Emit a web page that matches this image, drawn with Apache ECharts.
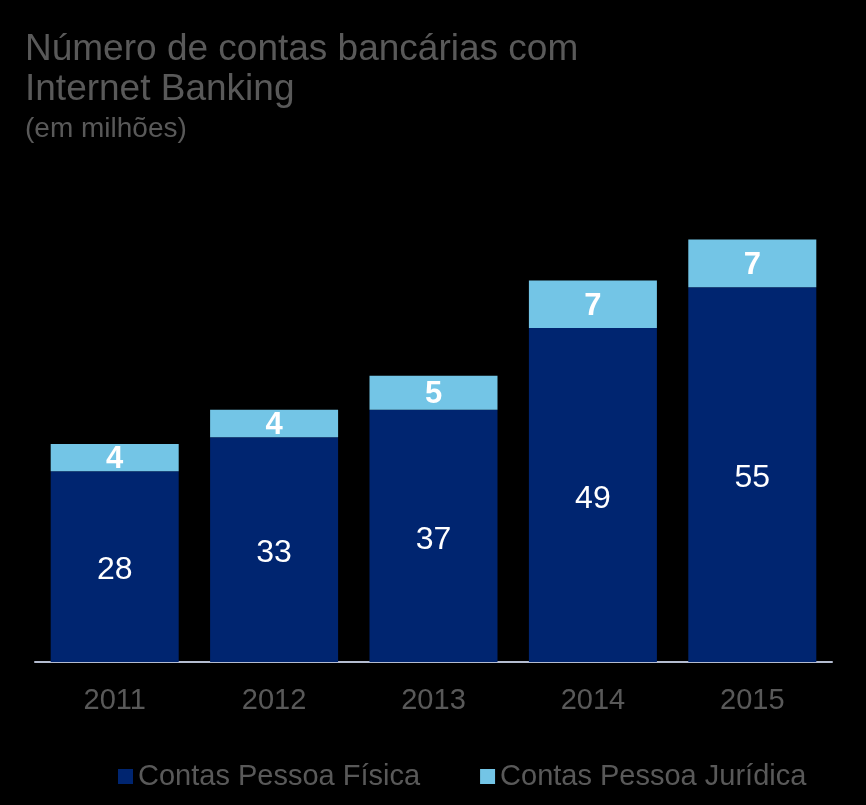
<!DOCTYPE html>
<html><head><meta charset="utf-8">
<script src="https://cdn.jsdelivr.net/npm/echarts@6/dist/echarts.min.js"></script>
<style>html,body{margin:0;padding:0;background:#000;}#c{width:866px;height:805px;}</style>
</head><body><div id="c"></div>
<script>
const categories = ['2011','2012','2013','2014','2015'];
const pessoaFisica = [28, 33, 37, 49, 55];
const pessoaJuridica = [4, 4, 5, 7, 7];
const seriesNames = ['Contas Pessoa Física', 'Contas Pessoa Jurídica'];

const chart = echarts.init(document.getElementById('c'), null, {renderer:'canvas'});
const font = 'Liberation Sans, Arial, sans-serif';
chart.setOption({
  backgroundColor: '#000',
  animation: false,
  title: [
    {text: 'Número de contas bancárias com\nInternet Banking', left: 20, top: 25,
     textStyle: {color:'#595959', fontSize: 37, fontWeight:'normal', fontFamily: font, lineHeight: 40}},
    {text: '(em milhões)', left: 20, top: 110,
     textStyle: {color:'#595959', fontSize: 28, fontWeight:'normal', fontFamily: font}}
  ],
  legend: {
    bottom: 9, left: 113, itemWidth: 15, itemHeight: 15, itemGap: 60,
    icon: 'rect',
    textStyle: {color:'#595959', fontSize: 29, fontFamily: font},
    data: seriesNames
  },
  grid: {left: 35, right: 34, top: 185, bottom: 143},
  xAxis: {
    type: 'category', data: categories,
    axisLine: {lineStyle: {color:'#B4BCD0', width: 2}},
    axisTick: {show:false},
    axisLabel: {color:'#595959', fontSize: 29, fontFamily: font, margin: 24}
  },
  yAxis: {type:'value', min:0, max:70, show:false, splitLine:{show:false}},
  series: [
    {name: seriesNames[0], type:'bar', stack:'a', data: pessoaFisica, barWidth: 128,
     itemStyle:{color:'#002570'},
     label:{show:true, position:'inside', color:'#fff', fontSize: 32, fontFamily: font, offset:[0,4]}},
    {name: seriesNames[1], type:'bar', stack:'a', data: pessoaJuridica, barWidth: 128,
     itemStyle:{color:'#73C5E6'},
     label:{show:true, position:'inside', color:'#fff', fontSize: 31, fontWeight:'bold', fontFamily: font, offset:[0,2]}}
  ]
});
</script></body></html>
